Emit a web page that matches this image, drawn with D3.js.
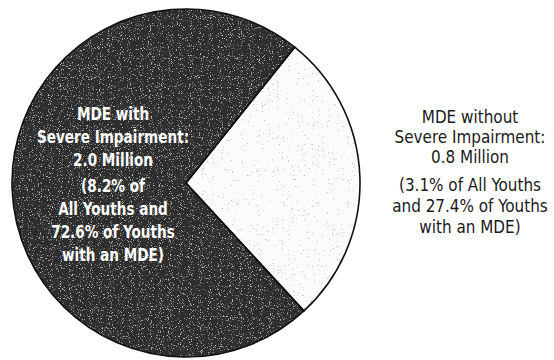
<!DOCTYPE html>
<html>
<head>
<meta charset="utf-8">
<script src="https://cdn.jsdelivr.net/npm/d3@7"></script>
<style>
  html, body { margin: 0; padding: 0; background: #fff; }
  svg { display: block; }
  text { font-family: "DejaVu Sans Condensed", "Liberation Sans Narrow", "Arial Narrow", sans-serif; }
</style>
</head>
<body>
<svg id="chart" width="554" height="360"></svg>
<script>
// Youths with a major depressive episode (MDE), by severity of impairment
const categories = ["MDE with Severe Impairment", "MDE without Severe Impairment"];
const shares = [72.6, 27.4];           // percent of youths with an MDE
const millions = [2.0, 0.8];
const shareOfAll = [8.2, 3.1];          // percent of all youths

const labelLines = [
  ["MDE with", "Severe Impairment:", "2.0 Million", "(8.2% of", "All Youths and", "72.6% of Youths", "with an MDE)"],
  ["MDE without", "Severe Impairment:", "0.8 Million", "(3.1% of All Youths", "and 27.4% of Youths", "with an MDE)"]
];

const svg = d3.select("#chart");
const cx = 186, cy = 183, r = 174;

// grain textures
const defs = svg.append("defs");
const dark = defs.append("filter").attr("id", "darkGrain")
  .attr("x", 0).attr("y", 0).attr("width", 1).attr("height", 1);
dark.append("feTurbulence").attr("type", "fractalNoise").attr("baseFrequency", 0.9)
  .attr("numOctaves", 2).attr("seed", 4).attr("result", "noise");
dark.append("feColorMatrix").attr("in", "noise").attr("type", "matrix")
  .attr("values", "0 0 0 0 1  0 0 0 0 1  0 0 0 0 1  4 0 0 0 -2.2").attr("result", "spk");
dark.append("feComponentTransfer").attr("in", "spk").attr("result", "spk2")
  .append("feFuncA").attr("type", "discrete").attr("tableValues", "0 0 0.06 0.14 0.25 0.35 0.45 0.55");
dark.append("feComposite").attr("in", "spk2").attr("in2", "SourceGraphic")
  .attr("operator", "in").attr("result", "spk3");
const dm = dark.append("feMerge");
dm.append("feMergeNode").attr("in", "SourceGraphic");
dm.append("feMergeNode").attr("in", "spk3");

const light = defs.append("filter").attr("id", "lightGrain")
  .attr("x", 0).attr("y", 0).attr("width", 1).attr("height", 1);
light.append("feTurbulence").attr("type", "fractalNoise").attr("baseFrequency", 0.8)
  .attr("numOctaves", 2).attr("seed", 9).attr("result", "noise");
light.append("feColorMatrix").attr("in", "noise").attr("type", "matrix")
  .attr("values", "0 0 0 0 0.45  0 0 0 0 0.45  0 0 0 0 0.45  5 0 0 0 -3").attr("result", "dots");
light.append("feComponentTransfer").attr("in", "dots").attr("result", "dots2")
  .append("feFuncA").attr("type", "discrete").attr("tableValues", "0 0 0 0 0 0.5 0.8 0.9");
light.append("feComposite").attr("in", "dots2").attr("in2", "SourceGraphic")
  .attr("operator", "in").attr("result", "dots3");
const lm = light.append("feMerge");
lm.append("feMergeNode").attr("in", "SourceGraphic");
lm.append("feMergeNode").attr("in", "dots3");

// light slice centred a little below 3 o'clock
const lightSpan = shares[1] / 100 * 2 * Math.PI;
const lightMid = 88 * Math.PI / 180;
const start = lightMid + lightSpan / 2;

const pie = d3.pie().sort(null).value(d => d)
  .startAngle(start).endAngle(start + 2 * Math.PI);
const arc = d3.arc().innerRadius(0).outerRadius(r);

const fills = ["#2d2d2d", "#fbfbfb"];
const filters = ["url(#darkGrain)", "url(#lightGrain)"];

const g = svg.append("g").attr("transform", `translate(${cx},${cy})`);
g.selectAll("path.slice").data(pie(shares)).join("path")
  .attr("class", "slice")
  .attr("d", arc)
  .attr("fill", (d, i) => fills[i])
  .attr("filter", (d, i) => filters[i]);

g.selectAll("path.edge").data(pie(shares)).join("path")
  .attr("class", "edge")
  .attr("d", arc)
  .attr("fill", "none")
  .attr("stroke", "#111")
  .attr("stroke-width", 1.6)
  .attr("stroke-linejoin", "miter");

// labels (condensed lettering)
const baselines = [
  [120, 143, 166, 192, 215, 238, 261],
  [123, 143, 163, 191, 212, 233]
];
const labelX = [113, 470];
const labelColor = ["#ffffff", "#1a1a1a"];
const labelScale = [0.84, 0.94];

labelLines.forEach((lines, k) => {
  const t = svg.append("g")
    .attr("transform", `translate(${labelX[k]},0) scale(${labelScale[k]},1)`)
    .append("text")
    .attr("text-anchor", "middle")
    .attr("fill", labelColor[k])
    .attr("font-size", 18)
    .attr("font-weight", k === 0 ? "bold" : "normal");
  lines.forEach((s, i) => {
    t.append("tspan").attr("x", 0).attr("y", baselines[k][i]).text(s);
  });
});
</script>
</body>
</html>
